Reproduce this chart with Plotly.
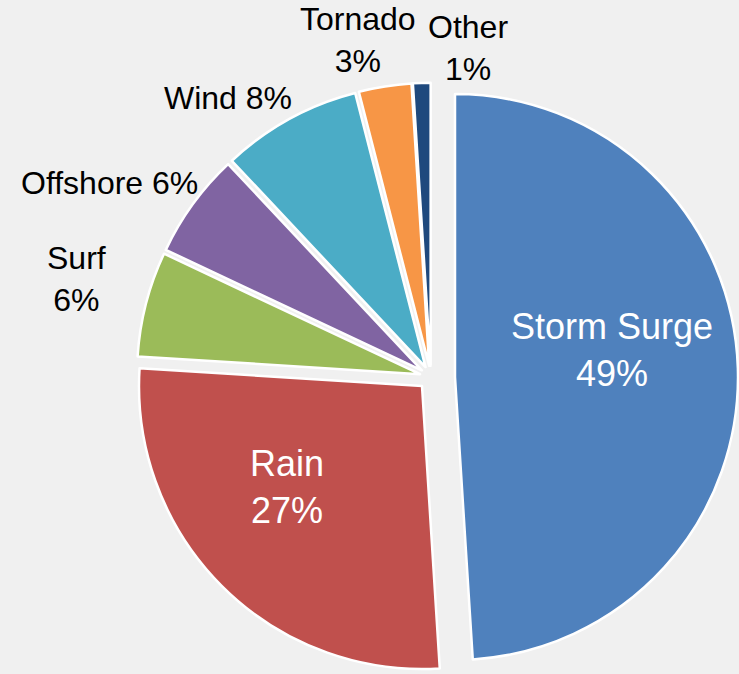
import plotly.graph_objects as go

labels = ["Storm Surge", "Rain", "Surf", "Offshore", "Wind", "Tornado", "Other"]
values = [49, 27, 6, 6, 8, 3, 1]
colors = ["#4F81BD", "#C0504D", "#9BBB59", "#8064A2", "#4BACC6", "#F79646", "#1F497D"]
pulls = [0, 0.045, 0.04, 0.04, 0.04, 0.04, 0.04]
label_fmt = ["{l}<br>{v}%", "{l}<br>{v}%", "{l}<br>{v}%", "{l} {v}%", "{l} {v}%", "{l}<br>{v}%", "{l}<br>{v}%"]

W, H = 739, 674
TRANSP = "rgba(0,0,0,0)"

fig = go.Figure()

# Exploded storm-surge slice, drawn as its own pie offset to the right
r = 283
cxA, cyA = 455, 377
cxB, cyB = 431, 377
maxpull = max(pulls)
hB = r * (1 + maxpull)

def dom(cx, cy, half):
    return dict(x=[(cx - half) / W, (cx + half) / W],
                y=[1 - (cy + half) / H, 1 - (cy - half) / H])

common = dict(labels=labels, values=values, sort=False, direction="clockwise",
              rotation=0, textinfo="none", showlegend=False)

fig.add_trace(go.Pie(
    **common,
    domain=dom(cxB, cyB, hB),
    pull=pulls,
    marker=dict(colors=[TRANSP] + colors[1:],
                line=dict(color=[TRANSP] + ["white"] * 6, width=2.5)),
))
fig.add_trace(go.Pie(
    **common,
    domain=dom(cxA, cyA, r),
    marker=dict(colors=[colors[0]] + [TRANSP] * 6,
                line=dict(color=["white"] + [TRANSP] * 6, width=2.5)),
))

# label block centres (pixels) and font sizes
label_pos = [(612, 350), (287, 487), (76, 279), (109, 183), (228, 98), (358, 40), (468, 48)]
label_col = ["white", "white", "black", "black", "black", "black", "black"]
label_size = [36, 36, 32, 32, 32, 32, 32]

for lab, v, fmt, (px, py), c, s in zip(labels, values, label_fmt, label_pos, label_col, label_size):
    fig.add_annotation(x=px / W, y=1 - py / H, xref="paper", yref="paper",
                       text=fmt.format(l=lab, v=v), showarrow=False,
                       xanchor="center", yanchor="middle",
                       font=dict(family="Arial, Liberation Sans, sans-serif", size=s, color=c))

fig.update_layout(width=W, height=H, margin=dict(l=0, r=0, t=0, b=0),
                  paper_bgcolor="#f0f0f0", plot_bgcolor="#f0f0f0")

fig.write_html("out.html")
